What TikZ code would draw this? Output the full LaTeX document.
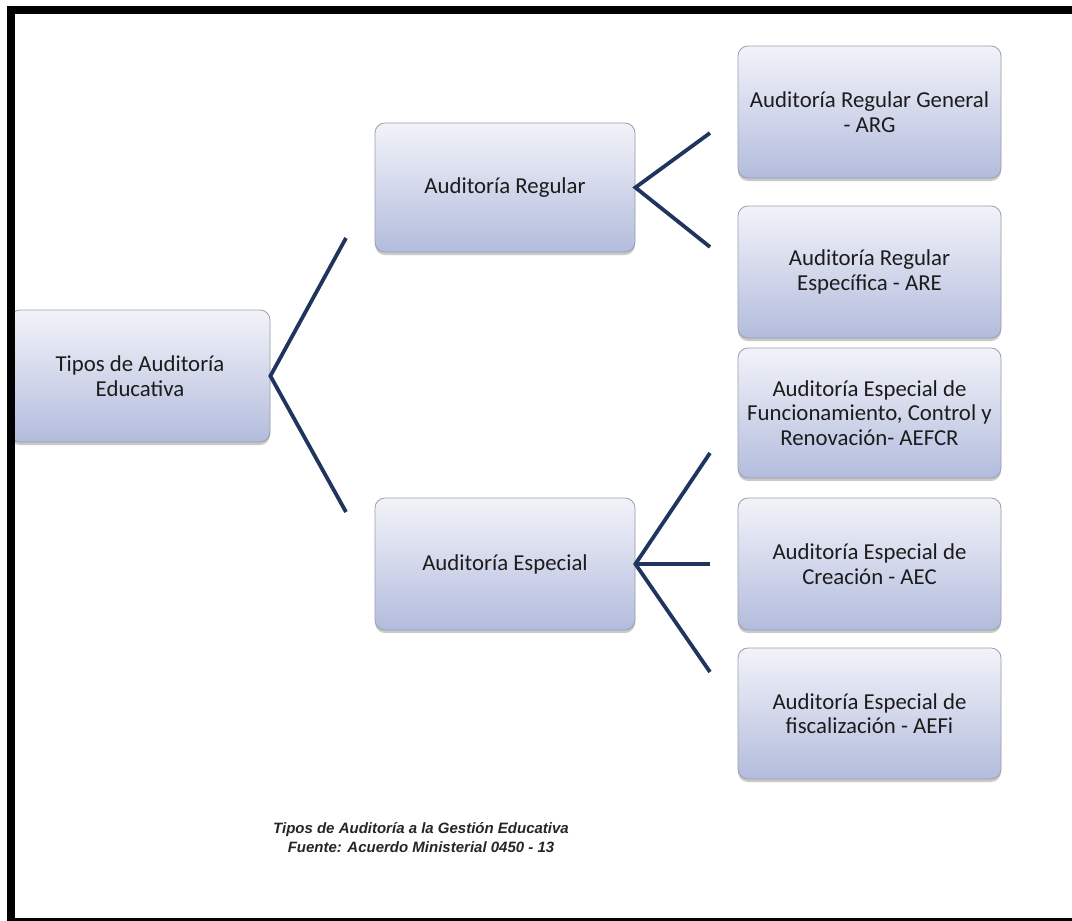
\documentclass[tikz,border=0pt]{standalone}
\usepackage{fontspec}
\setmainfont{Carlito}
\newfontfamily\capfont{Liberation Sans}
\usetikzlibrary{shadows}
\definecolor{boxtop}{HTML}{F2F3F9}
\definecolor{boxbot}{HTML}{B3BCDD}
\definecolor{boxline}{HTML}{9A9FAE}
\definecolor{linkcol}{HTML}{1F355E}
\definecolor{txt}{HTML}{1C1C1C}
\tikzset{
  box/.style={rounded corners=10pt, draw=boxline, line width=0.8pt,
    top color=boxtop, bottom color=boxbot, align=center,
    font=\fontsize{22.8}{24.5}\selectfont, text=txt,
    drop shadow={shadow xshift=0pt, shadow yshift=-3pt, opacity=0.35, fill=black!60}},
  link/.style={draw=linkcol, line width=3.8pt},
  caption/.style={font=\capfont\bfseries\itshape\fontsize{15}{19}\selectfont, align=center, text=black!85}
}
\begin{document}
\begin{tikzpicture}[x=1pt,y=-1pt]
\useasboundingbox (0,0) rectangle (1072,921);
\fill[white] (0,0) rectangle (1072,921);
% nodes
\node[box, minimum width=260pt, minimum height=132pt] (root) at (140,376) {Tipos de Auditoría\\Educativa};
\node[box, minimum width=260pt, minimum height=129pt] (reg) at (505,187.5) {Auditoría Regular};
\node[box, minimum width=260pt, minimum height=132pt] (esp) at (505,564) {Auditoría Especial};
\node[box, minimum width=263pt, minimum height=132pt] (arg) at (869.5,112) {Auditoría Regular General\\- ARG};
\node[box, minimum width=263pt, minimum height=132pt] (are) at (869.5,272) {Auditoría Regular\\Específica - ARE};
\node[box, minimum width=263pt, minimum height=130pt] (aefcr) at (869.5,413) {Auditoría Especial de\\Funcionamiento, Control y\\Renovación- AEFCR};
\node[box, minimum width=263pt, minimum height=132pt] (aec) at (869.5,564) {Auditoría Especial de\\Creación - AEC};
\node[box, minimum width=263pt, minimum height=131pt] (aefi) at (869.5,713.5) {Auditoría Especial de\\fiscalización - AEFi};
% connector ends
\coordinate (r1) at (346,238);
\coordinate (r2) at (346,512);
\coordinate (g1) at (710,133);
\coordinate (g2) at (710,247);
\coordinate (e1) at (710,453);
\coordinate (e2) at (710,564);
\coordinate (e3) at (710,672);
\draw[link] (r1) -- (root.east) -- (r2);
\draw[link] (g1) -- (reg.east) -- (g2);
\draw[link] (e1) -- (esp.east) -- (e3);
\draw[link] (esp.east) -- (e2);
% caption
\node[caption] (cap) at (421,838) {Tipos de Auditoría a la Gestión Educativa\\Fuente: Acuerdo Ministerial 0450 - 13};
% frame
\fill[black] (7,6) rectangle (1072,14);
\fill[black] (7,6) rectangle (15,921);
\fill[black] (7,918) rectangle (1072,921);
\end{tikzpicture}
\end{document}
